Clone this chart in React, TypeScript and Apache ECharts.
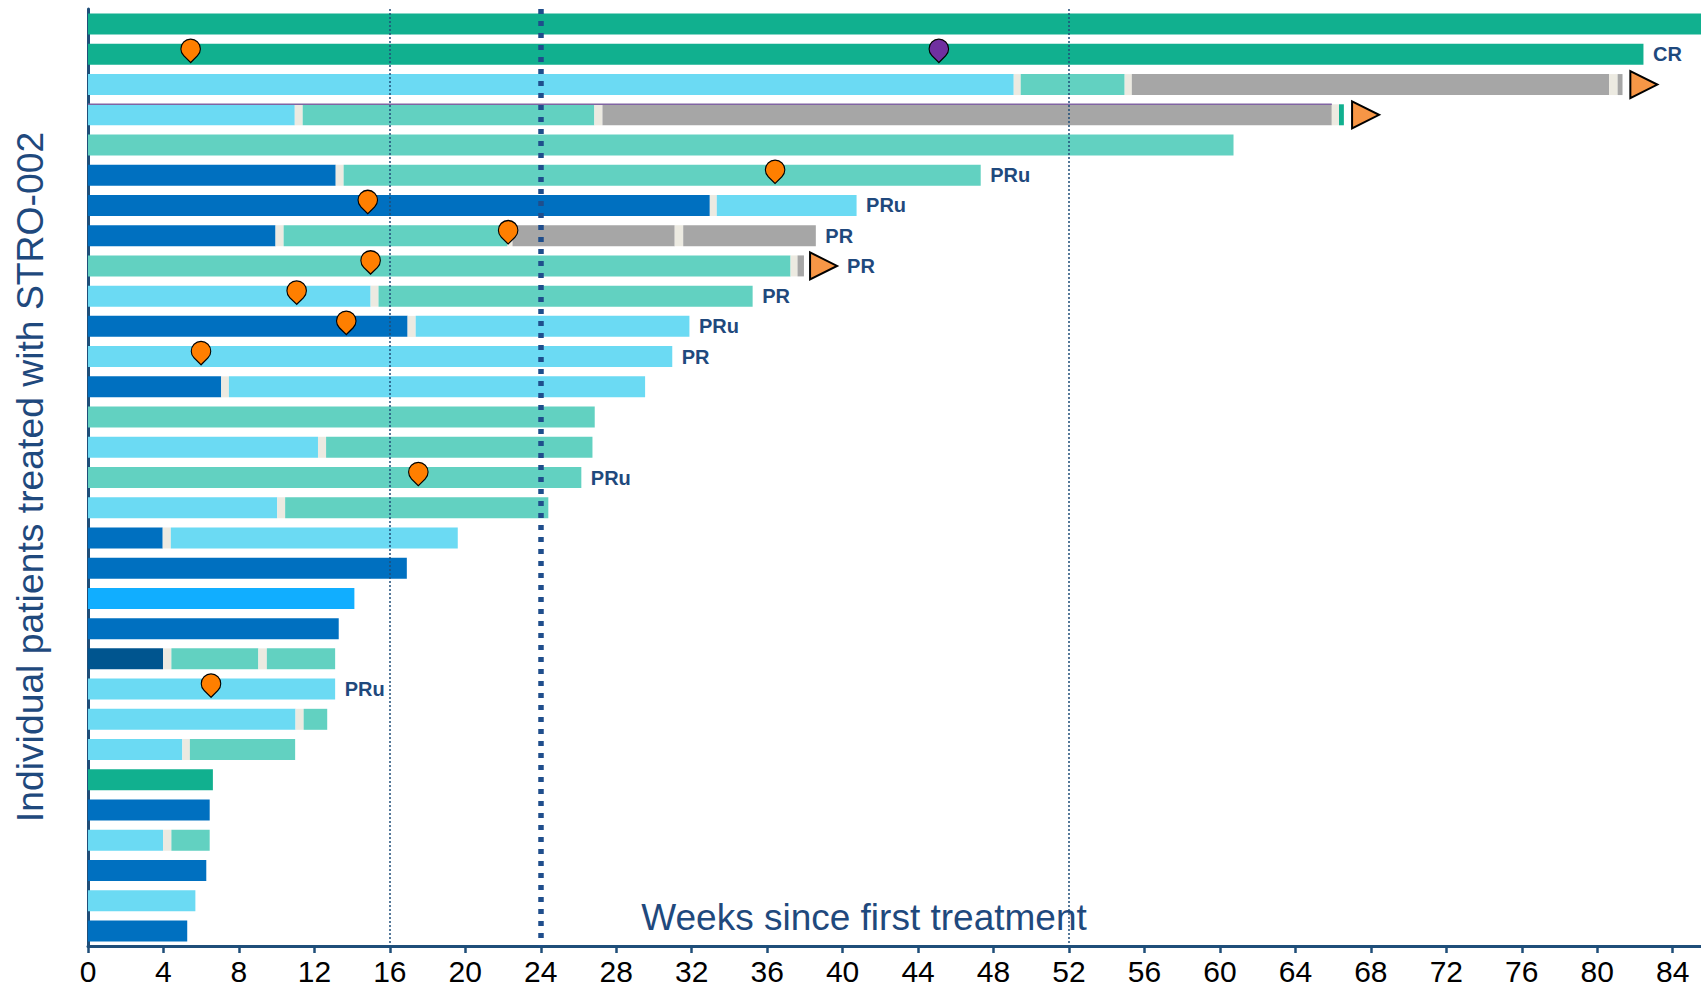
import React, { useEffect, useRef } from "react";
import * as echarts from "echarts";

// ---- data ----
const patients = [
  "P01", "P02", "P03", "P04", "P05", "P06", "P07", "P08", "P09", "P10",
  "P11", "P12", "P13", "P14", "P15", "P16", "P17", "P18", "P19", "P20",
  "P21", "P22", "P23", "P24", "P25", "P26", "P27", "P28", "P29", "P30", "P31",
];

// phase key -> colour ("x" = short break between phases)
const phaseColors: Record<string, string> = {
  A: "#11B08F",
  B: "#62D1C1",
  C: "#6BDAF3",
  D: "#0070C0",
  E: "#11AEFF",
  F: "#00558F",
  G: "#A6A6A6",
  x: "#ECEAE1",
};

// each patient: successive phases as [phase, end week]
const phaseEnds: [string, number][][] = [
  [["A", 85.5]],
  [["A", 82.45]],
  [["C", 49.07], ["x", 49.44], ["B", 54.95], ["x", 55.33], ["G", 80.63], ["x", 81.08], ["G", 81.34]],
  [["C", 10.96], ["x", 11.38], ["B", 26.84], ["x", 27.27], ["G", 65.93], ["x", 66.31], ["A", 66.57]],
  [["B", 60.72]],
  [["D", 13.13], ["x", 13.55], ["B", 47.32]],
  [["D", 32.96], ["x", 33.33], ["C", 40.74]],
  [["D", 9.94], ["x", 10.37], ["B", 22.24], ["x", 22.5], ["G", 31.1], ["x", 31.55], ["G", 38.58]],
  [["B", 37.24], ["x", 37.61], ["G", 37.95]],
  [["C", 14.98], ["x", 15.4], ["B", 35.23]],
  [["D", 16.94], ["x", 17.37], ["C", 31.88]],
  [["C", 30.97]],
  [["D", 7.06], ["x", 7.47], ["C", 29.53]],
  [["B", 26.86]],
  [["C", 12.19], ["x", 12.62], ["B", 26.74]],
  [["B", 26.15]],
  [["C", 10.03], ["x", 10.45], ["B", 24.4]],
  [["D", 3.96], ["x", 4.39], ["C", 19.6]],
  [["D", 16.9]],
  [["E", 14.12]],
  [["D", 13.29]],
  [["F", 3.98], ["x", 4.42], ["B", 9.03], ["x", 9.48], ["B", 13.1]],
  [["C", 13.1]],
  [["C", 11.0], ["x", 11.43], ["B", 12.68]],
  [["C", 5.0], ["x", 5.4], ["B", 10.98]],
  [["A", 6.62]],
  [["D", 6.45]],
  [["C", 3.98], ["x", 4.42], ["B", 6.45]],
  [["D", 6.27]],
  [["C", 5.69]],
  [["D", 5.26]],
];

const orangeEvents: [string, number][] = [
  ["P02", 5.44], ["P06", 36.42], ["P07", 14.83], ["P08", 22.27], ["P09", 14.98],
  ["P10", 11.06], ["P11", 13.69], ["P12", 5.99], ["P16", 17.51], ["P23", 6.52],
];
const purpleEvents: [string, number][] = [["P02", 45.1]];
const ongoing: [string, number][] = [["P03", 82.47], ["P04", 67.72], ["P09", 38.99]];
const responses: [string, string][] = [
  ["P02", "CR"], ["P06", "PRu"], ["P07", "PRu"], ["P08", "PR"], ["P09", "PR"],
  ["P10", "PR"], ["P11", "PRu"], ["P12", "PR"], ["P16", "PRu"], ["P23", "PRu"],
];
// thin purple edge drawn along the top of one bar
const purpleEdges: [string, number][] = [["P04", 65.93]];
const referenceWeeks = [16, 24, 52];

const AXIS_BLUE = "#1F4E79";
const TEXT_BLUE = "#1F497D";
const FONT = "Liberation Sans, Arial, sans-serif";
const PIN = "path://M10,24 L3,17.14 A10,10 0 1 1 17,17.14 Z";
const TRI = "path://M0,0 L27,13.5 L0,27 Z";
const BAR_W = 21;

function buildOption() {
  const maxSegs = Math.max(...phaseEnds.map((p) => p.length));
  const barSeries: any[] = [];
  for (let i = 0; i < maxSegs; i++) {
    barSeries.push({
      type: "bar",
      stack: "total",
      barWidth: BAR_W,
      z: 2,
      silent: true,
      data: phaseEnds.map((segs) => {
        const s = segs[i];
        if (!s) return "-";
        const prev = i > 0 ? segs[i - 1][1] : 0;
        return { value: +(s[1] - prev).toFixed(3), itemStyle: { color: phaseColors[s[0]] } };
      }),
    });
  }
  barSeries[0].markLine = {
    silent: true,
    symbol: "none",
    z: 3,
    label: { show: false },
    data: referenceWeeks.map((w) =>
      w === 24
        ? { xAxis: w, lineStyle: { color: "#1F4E8C", width: 5.5, type: [5, 7] } }
        : { xAxis: w, lineStyle: { color: AXIS_BLUE, width: 1.5, type: [2, 2] } }
    ),
  };

  const labelData = responses.map(([p, text]) => {
    const tri = ongoing.find((o) => o[0] === p);
    const segs = phaseEnds[patients.indexOf(p)];
    const end = segs[segs.length - 1][1];
    return {
      value: [tri ? tri[1] : end, p],
      label: { formatter: text, distance: tri ? 23 : 9 },
    };
  });

  return {
    animation: false,
    grid: { left: 88, right: 0, top: 9, bottom: 42, containLabel: false },
    xAxis: {
      type: "value",
      min: 0,
      max: 85.5,
      interval: 4,
      axisLine: { show: true, lineStyle: { color: AXIS_BLUE, width: 3 } },
      axisTick: { show: true, length: 7, lineStyle: { color: AXIS_BLUE, width: 2.5 } },
      axisLabel: {
        color: "#000",
        fontSize: 30,
        lineHeight: 26,
        fontFamily: FONT,
        margin: 12,
        showMaxLabel: false,
        formatter: (v: number) => (v % 4 === 0 ? String(v) : ""),
      },
      splitLine: { show: false },
    },
    yAxis: {
      type: "category",
      data: patients,
      inverse: true,
      axisLine: { show: true, lineStyle: { color: AXIS_BLUE, width: 3 } },
      axisTick: { show: false },
      axisLabel: { show: false },
      splitLine: { show: false },
    },
    graphic: [
      {
        type: "text",
        x: 864,
        y: 917,
        style: {
          text: "Weeks since first treatment",
          fill: TEXT_BLUE,
          font: `37px ${FONT}`,
          textAlign: "center",
          textVerticalAlign: "middle",
        },
      },
      {
        type: "text",
        x: 29.5,
        y: 477,
        rotation: Math.PI / 2,
        style: {
          text: "Individual patients treated with STRO-002",
          fill: TEXT_BLUE,
          font: `37.3px ${FONT}`,
          textAlign: "center",
          textVerticalAlign: "middle",
        },
      },
    ],
    series: [
      ...barSeries,
      {
        type: "custom",
        z: 4,
        silent: true,
        data: purpleEdges.map(([p, w]) => [w, p]),
        renderItem: (params: any, api: any) => {
          const cat = api.value(1);
          const start = api.coord([0, cat]);
          const end = api.coord([api.value(0), cat]);
          const y = start[1] - BAR_W / 2;
          return {
            type: "line",
            shape: { x1: start[0], y1: y, x2: end[0], y2: y },
            style: { stroke: "#8064A2", lineWidth: 1.5 },
          };
        },
        encode: { x: 0, y: 1 },
      },
      {
        type: "scatter",
        z: 10,
        silent: true,
        symbol: PIN,
        symbolSize: [19.5, 23.4],
        symbolOffset: [0, -3.5],
        itemStyle: { color: "#FF7F00", borderColor: "#000", borderWidth: 1.2, opacity: 1 },
        data: orangeEvents.map(([p, w]) => [w, p]),
      },
      {
        type: "scatter",
        z: 10,
        silent: true,
        symbol: PIN,
        symbolSize: [19.5, 23.4],
        symbolOffset: [0, -3.5],
        itemStyle: { color: "#7030A0", borderColor: "#000", borderWidth: 1.2, opacity: 1 },
        data: purpleEvents.map(([p, w]) => [w, p]),
      },
      {
        type: "scatter",
        z: 10,
        silent: true,
        symbol: TRI,
        symbolSize: [27, 27],
        itemStyle: { color: "#F79646", borderColor: "#000", borderWidth: 2, opacity: 1 },
        data: ongoing.map(([p, w]) => [w, p]),
      },
      {
        type: "scatter",
        z: 11,
        silent: true,
        symbolSize: 1,
        itemStyle: { color: "transparent", opacity: 1 },
        label: {
          show: true,
          position: "right",
          color: TEXT_BLUE,
          fontSize: 20,
          fontWeight: "bold",
          fontFamily: FONT,
        },
        data: labelData,
      },
    ],
  };
}

export default function App() {
  const ref = useRef<HTMLDivElement>(null);
  useEffect(() => {
    if (!ref.current) return;
    const chart = echarts.init(ref.current, undefined, { renderer: "svg" });
    chart.setOption(buildOption() as any);
    return () => chart.dispose();
  }, []);
  return (
    <div
      ref={ref}
      style={{ position: "fixed", left: 0, top: 0, width: 1701, height: 988, background: "#fff" }}
    />
  );
}
